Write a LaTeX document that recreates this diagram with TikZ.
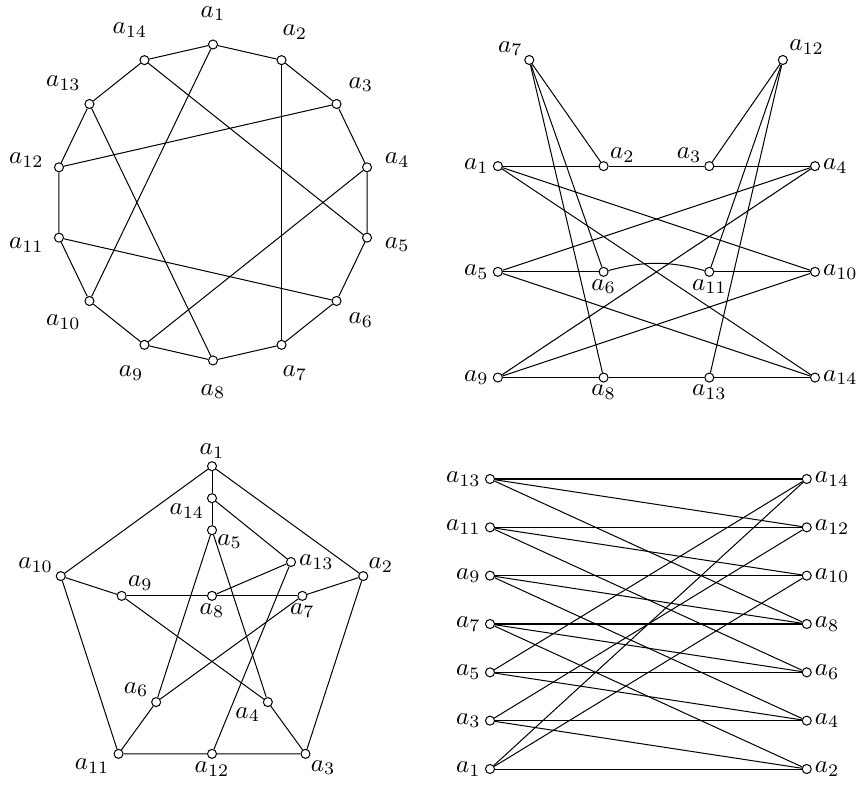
\documentclass[tikz,border=0pt]{standalone}
\usepackage{tikz}
\usetikzlibrary{positioning}
\tikzset{
  vtx/.style={circle, draw=black, fill=white, inner sep=0pt, minimum size=3.6pt, line width=0.4pt},
  vlabel/.style={inner sep=0pt},
  link/.style={draw=black, line width=0.4pt},
}

\begin{document}
\begin{tikzpicture}
\useasboundingbox (0,0) rectangle (12.026,10.976);
% 14-gon
\begin{scope}[shift={(2.982,8.141)}]
\node[vtx] (r1) at (90:2.212) {};
\node[vtx] (r2) at (64.29:2.212) {};
\node[vtx] (r3) at (38.57:2.212) {};
\node[vtx] (r4) at (12.86:2.212) {};
\node[vtx] (r5) at (-12.86:2.212) {};
\node[vtx] (r6) at (-38.57:2.212) {};
\node[vtx] (r7) at (-64.29:2.212) {};
\node[vtx] (r8) at (-90:2.212) {};
\node[vtx] (r9) at (-115.71:2.212) {};
\node[vtx] (r10) at (-141.43:2.212) {};
\node[vtx] (r11) at (-167.14:2.212) {};
\node[vtx] (r12) at (167.14:2.212) {};
\node[vtx] (r13) at (141.43:2.212) {};
\node[vtx] (r14) at (115.71:2.212) {};
\node[vlabel] (r1l) at (90:2.646) {$a_{1}$};
\node[vlabel] (r2l) at (64.29:2.646) {$a_{2}$};
\node[vlabel] (r3l) at (38.57:2.646) {$a_{3}$};
\node[vlabel] (r4l) at (12.86:2.646) {$a_{4}$};
\node[vlabel] (r5l) at (-12.86:2.646) {$a_{5}$};
\node[vlabel] (r6l) at (-38.57:2.646) {$a_{6}$};
\node[vlabel] (r7l) at (-64.29:2.646) {$a_{7}$};
\node[vlabel] (r8l) at (-90:2.646) {$a_{8}$};
\node[vlabel] (r9l) at (-115.71:2.646) {$a_{9}$};
\node[vlabel] (r10l) at (-141.43:2.68) {$a_{10}$};
\node[vlabel] (r11l) at (-167.14:2.68) {$a_{11}$};
\node[vlabel] (r12l) at (167.14:2.68) {$a_{12}$};
\node[vlabel] (r13l) at (141.43:2.68) {$a_{13}$};
\node[vlabel] (r14l) at (115.71:2.68) {$a_{14}$};
\end{scope}
\draw[link] (r1) -- (r2) -- (r3) -- (r4) -- (r5) -- (r6) -- (r7) -- (r8)
  -- (r9) -- (r10) -- (r11) -- (r12) -- (r13) -- (r14) -- (r1);
\draw[link] (r1) -- (r10);
\draw[link] (r2) -- (r7);
\draw[link] (r3) -- (r12);
\draw[link] (r4) -- (r9);
\draw[link] (r5) -- (r14);
\draw[link] (r6) -- (r11);
\draw[link] (r8) -- (r13);

% grid drawing
\node[vtx] (g1) at (6.97,8.65) {};
\node[vtx] (g2) at (8.45,8.65) {};
\node[vtx] (g3) at (9.93,8.65) {};
\node[vtx] (g4) at (11.41,8.65) {};
\node[vtx] (g5) at (6.97,7.17) {};
\node[vtx] (g6) at (8.45,7.17) {};
\node[vtx] (g11) at (9.93,7.17) {};
\node[vtx] (g10) at (11.41,7.17) {};
\node[vtx] (g9) at (6.97,5.69) {};
\node[vtx] (g8) at (8.45,5.69) {};
\node[vtx] (g13) at (9.93,5.69) {};
\node[vtx] (g14) at (11.41,5.69) {};
\node[vtx] (g7) at (7.41,10.136) {};
\node[vtx] (g12) at (10.96,10.136) {};
\node[vlabel, above left=0pt and 1pt of g7] (g7l) {$a_{7}$};
\node[vlabel, above right=0.5pt and 1pt of g12] (g12l) {$a_{12}$};
\node[vlabel, above right=0pt and 1pt of g2] (g2l) {$a_{2}$};
\node[vlabel, above left=0pt and 1.5pt of g3] (g3l) {$a_{3}$};
\node[vlabel, left=1.5pt of g1] (g1l) {$a_{1}$};
\node[vlabel, right=1pt of g4] (g4l) {$a_{4}$};
\node[vlabel, left=1.5pt of g5] (g5l) {$a_{5}$};
\node[vlabel, right=1pt of g10] (g10l) {$a_{10}$};
\node[vlabel, left=1.5pt of g9] (g9l) {$a_{9}$};
\node[vlabel, right=1pt of g14] (g14l) {$a_{14}$};
\node[vlabel, below=0.8pt of g6] (g6l) {$a_{6}$};
\node[vlabel, below=0.8pt of g11] (g11l) {$a_{11}$};
\node[vlabel, below=0.8pt of g8] (g8l) {$a_{8}$};
\node[vlabel, below=0.8pt of g13] (g13l) {$a_{13}$};
\draw[link] (g1) -- (g2) -- (g3) -- (g4);
\draw[link] (g7) -- (g2);
\draw[link] (g7) -- (g6);
\draw[link] (g7) -- (g8);
\draw[link] (g12) -- (g3);
\draw[link] (g12) -- (g11);
\draw[link] (g12) -- (g13);
\draw[link] (g1) -- (g10);
\draw[link] (g1) -- (g14);
\draw[link] (g4) -- (g5);
\draw[link] (g4) -- (g9);
\draw[link] (g5) -- (g6);
\draw[link] (g6) to[bend left=15] (g11);
\draw[link] (g11) -- (g10);
\draw[link] (g5) -- (g14);
\draw[link] (g9) -- (g10);
\draw[link] (g9) -- (g8) -- (g13) -- (g14);

% pentagon drawing
\begin{scope}[shift={(2.968,2.223)}]
\node[vtx] (p1) at (90:2.226) {};
\node[vtx] (p2) at (18:2.226) {};
\node[vtx] (p3) at (-54:2.226) {};
\node[vtx] (p11) at (-126:2.226) {};
\node[vtx] (p10) at (162:2.226) {};
\node[vtx] (p5) at (90:1.33) {};
\node[vtx] (p7) at (18:1.33) {};
\node[vtx] (p4) at (-54:1.33) {};
\node[vtx] (p6) at (-126:1.33) {};
\node[vtx] (p9) at (162:1.33) {};
\node[vtx] (p14) at (90:1.778) {};
\node[vtx] (p8) at (0,0.411) {};
\node[vtx] (p13) at (1.106,0.885) {};
\node[vtx] (p12) at (0,-1.801) {};
\end{scope}
\node[vlabel, above=1pt of p1] (p1l) {$a_{1}$};
\node[vlabel, below left=0.5pt and 1.5pt of p14] (p14l) {$a_{14}$};
\node[vlabel, below right=0pt and 0.5pt of p5] (p5l) {$a_{5}$};
\node[vlabel, right=1pt of p13] (p13l) {$a_{13}$};
\node[vlabel, above right=0pt and 0.5pt of p2] (p2l) {$a_{2}$};
\node[vlabel, above left=0pt and 1.5pt of p10] (p10l) {$a_{10}$};
\node[vlabel, above right=0.5pt and 1pt of p9] (p9l) {$a_{9}$};
\node[vlabel, below=0.8pt of p8] (p8l) {$a_{8}$};
\node[vlabel, below=0.8pt of p7] (p7l) {$a_{7}$};
\node[vlabel, above left=0.5pt and 1.5pt of p6] (p6l) {$a_{6}$};
\node[vlabel, below left=0.5pt and 1.5pt of p4] (p4l) {$a_{4}$};
\node[vlabel, below left=0.5pt and 2pt of p11] (p11l) {$a_{11}$};
\node[vlabel, below=1pt of p12] (p12l) {$a_{12}$};
\node[vlabel, below right=1pt and 0.5pt of p3] (p3l) {$a_{3}$};
\draw[link] (p1) -- (p14) -- (p5);
\draw[link] (p1) -- (p10);
\draw[link] (p1) -- (p2);
\draw[link] (p14) -- (p13);
\draw[link] (p5) -- (p6);
\draw[link] (p5) -- (p4);
\draw[link] (p13) -- (p8);
\draw[link] (p13) -- (p12);
\draw[link] (p10) -- (p9);
\draw[link] (p10) -- (p11);
\draw[link] (p2) -- (p7);
\draw[link] (p2) -- (p3);
\draw[link] (p9) -- (p8) -- (p7);
\draw[link] (p9) -- (p4);
\draw[link] (p7) -- (p6);
\draw[link] (p6) -- (p11);
\draw[link] (p4) -- (p3);
\draw[link] (p11) -- (p12) -- (p3);

% two columns
\node[vtx] (b13) at (6.86,4.270) {};
\node[vtx] (b11) at (6.86,3.593) {};
\node[vtx] (b9) at (6.86,2.917) {};
\node[vtx] (b7) at (6.86,2.240) {};
\node[vtx] (b5) at (6.86,1.563) {};
\node[vtx] (b3) at (6.86,0.887) {};
\node[vtx] (b1) at (6.86,0.210) {};
\node[vtx] (b14) at (11.294,4.270) {};
\node[vtx] (b12) at (11.294,3.593) {};
\node[vtx] (b10) at (11.294,2.917) {};
\node[vtx] (b8) at (11.294,2.240) {};
\node[vtx] (b6) at (11.294,1.563) {};
\node[vtx] (b4) at (11.294,0.887) {};
\node[vtx] (b2) at (11.294,0.210) {};
\node[vlabel, left=1.5pt of b13] (b13l) {$a_{13}$};
\node[vlabel, left=1.5pt of b11] (b11l) {$a_{11}$};
\node[vlabel, left=1.5pt of b9] (b9l) {$a_{9}$};
\node[vlabel, left=1.5pt of b7] (b7l) {$a_{7}$};
\node[vlabel, left=1.5pt of b5] (b5l) {$a_{5}$};
\node[vlabel, left=1.5pt of b3] (b3l) {$a_{3}$};
\node[vlabel, left=1.5pt of b1] (b1l) {$a_{1}$};
\node[vlabel, right=1pt of b14] (b14l) {$a_{14}$};
\node[vlabel, right=1pt of b12] (b12l) {$a_{12}$};
\node[vlabel, right=1pt of b10] (b10l) {$a_{10}$};
\node[vlabel, right=1pt of b8] (b8l) {$a_{8}$};
\node[vlabel, right=1pt of b6] (b6l) {$a_{6}$};
\node[vlabel, right=1pt of b4] (b4l) {$a_{4}$};
\node[vlabel, right=1pt of b2] (b2l) {$a_{2}$};
\draw[link] (b13) -- (b14);
\draw[link] (b11) -- (b12);
\draw[link] (b9) -- (b10);
\draw[link] (b7) -- (b8);
\draw[link] (b5) -- (b6);
\draw[link] (b3) -- (b4);
\draw[link] (b1) -- (b2);
\draw[link] (b13) -- (b12);
\draw[link] (b11) -- (b10);
\draw[link] (b9) -- (b8);
\draw[link] (b7) -- (b6);
\draw[link] (b5) -- (b4);
\draw[link] (b3) -- (b2);
\draw[link] (b13) -- (b8);
\draw[link] (b11) -- (b6);
\draw[link] (b9) -- (b4);
\draw[link] (b7) -- (b2);
\draw[link] (b5) -- (b14);
\draw[link] (b3) -- (b12);
\draw[link] (b1) -- (b10);
\draw[link] (b1) -- (b14);
\end{tikzpicture}
\end{document}
